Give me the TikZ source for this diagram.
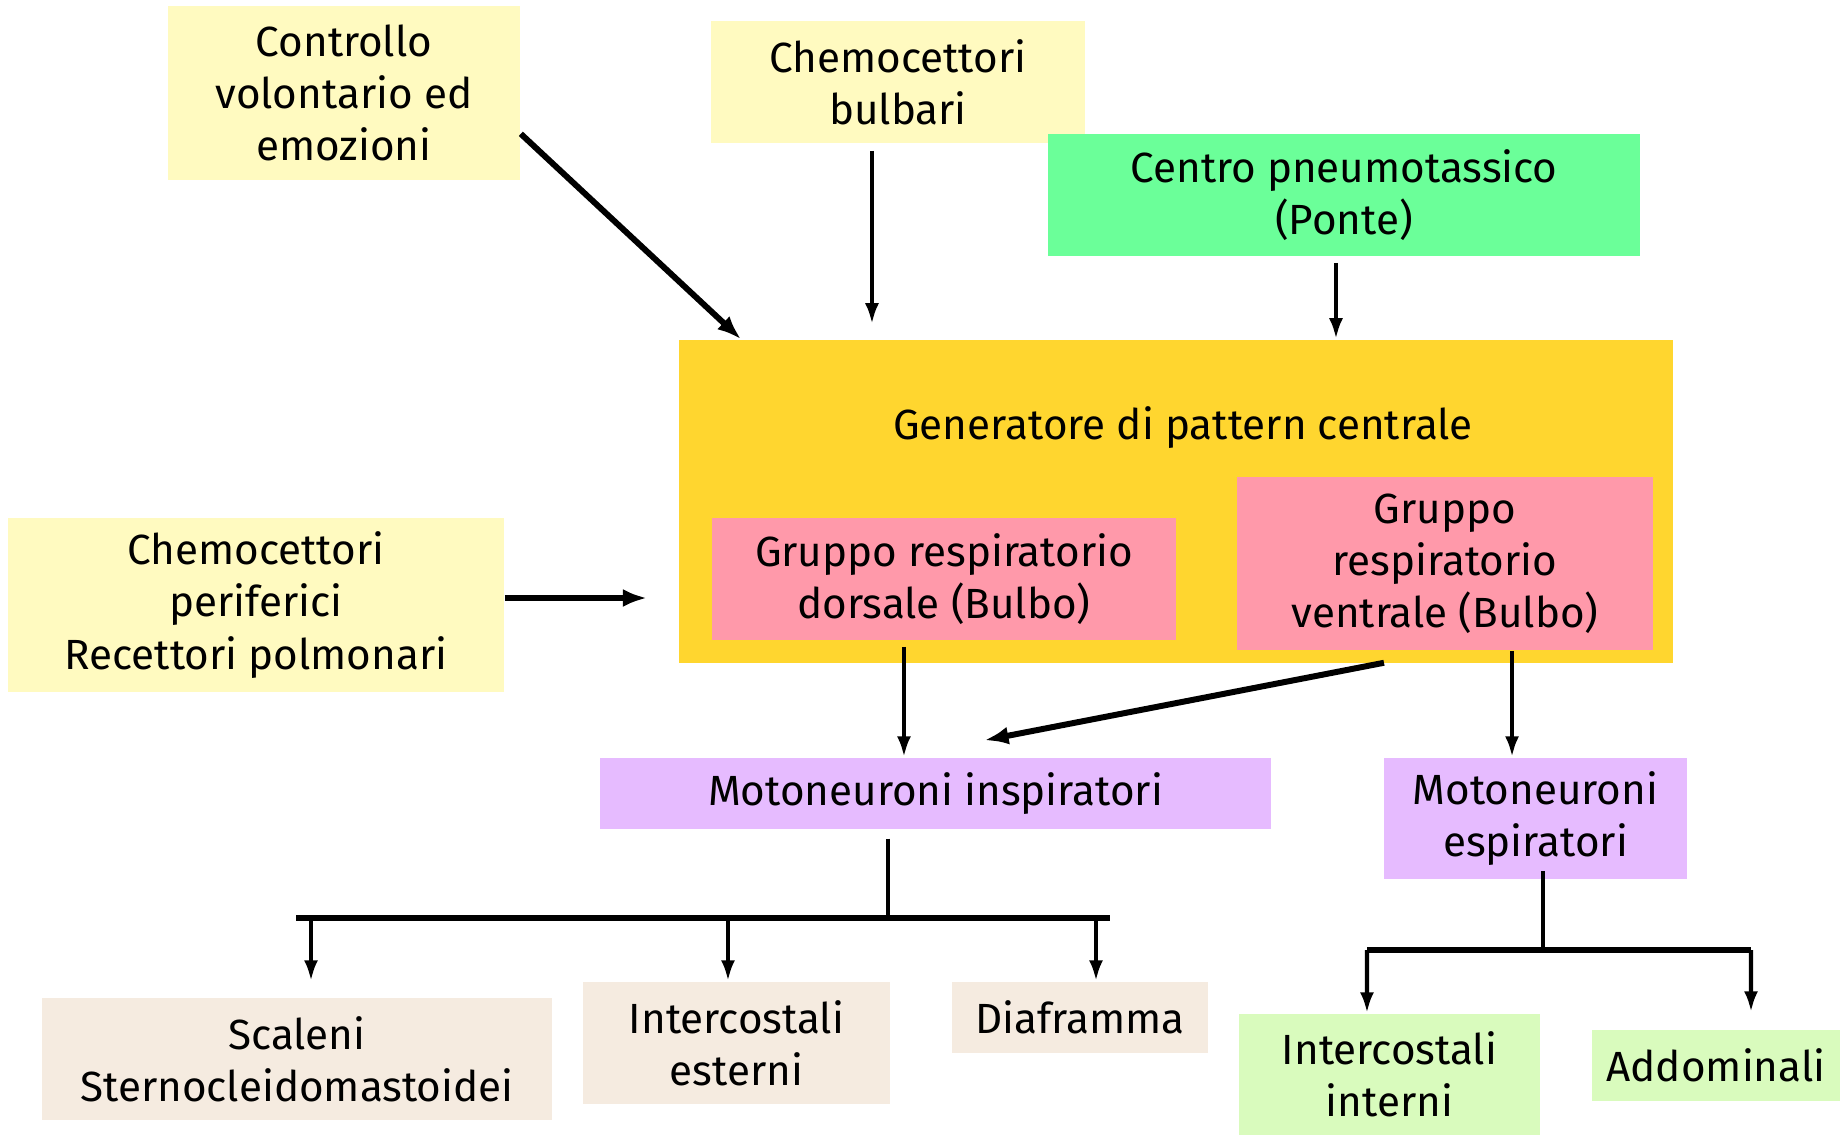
\documentclass[tikz,border=0pt]{standalone}
\usepackage{fontspec}
\setmainfont{Fira Sans}
\usepackage{tikz}
\usetikzlibrary{arrows.meta}
\definecolor{paleyellow}{RGB}{255,250,192}
\definecolor{pontegreen}{RGB}{107,255,153}
\definecolor{gengold}{RGB}{255,214,47}
\definecolor{grppink}{RGB}{255,153,170}
\definecolor{motolilac}{RGB}{230,187,255}
\definecolor{musbeige}{RGB}{245,235,224}
\definecolor{muslgreen}{RGB}{217,251,189}

\begin{document}
\begin{tikzpicture}[x=0.01cm,y=-0.01cm,
  every node/.style={font=\fontsize{12}{14.8}\selectfont},
  box/.style={inner sep=0pt,align=center},
  arr/.style={line width=1.2pt,-{Latex[length=0.21cm,width=0.14cm]}},
  bigarr/.style={line width=1.7pt,-{Latex[length=0.24cm,width=0.18cm]}},
  bar/.style={line width=1.9pt}]
\useasboundingbox (0,0) rectangle (1841,1135);
\node[box,fill=paleyellow,minimum width=3.52cm,minimum height=1.74cm] (vol) at (344,93) {Controllo\\volontario ed\\emozioni};
\node[box,fill=paleyellow,minimum width=3.74cm,minimum height=1.22cm] (bulb) at (898,82) {Chemocettori\\bulbari};
\node[box,fill=pontegreen,minimum width=5.92cm,minimum height=1.22cm] (ponte) at (1344,195) {Centro pneumotassico\\(Ponte)};
\node[box,fill=gengold,minimum width=9.94cm,minimum height=3.23cm] (gen) at (1176,501.5) {};
\node[box] (gentitle) at (1183,428) {Generatore di pattern centrale};
\node[box,fill=grppink,minimum width=4.64cm,minimum height=1.22cm] (dors) at (944,579) {Gruppo respiratorio\\dorsale (Bulbo)};
\node[box,fill=grppink,minimum width=4.16cm,minimum height=1.73cm] (ventr) at (1445,563.5) {Gruppo\\respiratorio\\ventrale (Bulbo)};
\node[box,fill=paleyellow,minimum width=4.96cm,minimum height=1.74cm] (perif) at (256,605) {Chemocettori\\periferici\\Recettori polmonari};
\node[box,fill=motolilac,minimum width=6.71cm,minimum height=0.71cm] (insp) at (935.5,793.5) {Motoneuroni inspiratori};
\node[box,fill=motolilac,minimum width=3.03cm,minimum height=1.21cm] (esp) at (1535.5,818.5) {Motoneuroni\\espiratori};
\node[box,fill=musbeige,minimum width=5.10cm,minimum height=1.22cm] (scal) at (297,1059) {Scaleni\\Sternocleidomastoidei};
\node[box,fill=musbeige,minimum width=3.07cm,minimum height=1.22cm] (iest) at (736.5,1043) {Intercostali\\esterni};
\node[box,fill=musbeige,minimum width=2.56cm,minimum height=0.71cm] (diaf) at (1080,1017.5) {Diaframma};
\node[box,fill=muslgreen,minimum width=3.01cm,minimum height=1.21cm] (iint) at (1389.5,1074.5) {Intercostali\\interni};
\node[box,fill=muslgreen,minimum width=2.48cm,minimum height=0.71cm] (addo) at (1716,1065.5) {Addominali};
\coordinate (ibarL) at (296,918);
\coordinate (ibarR) at (1110,918);
\coordinate (ebarL) at (1367,950);
\coordinate (ebarR) at (1751,950);

\draw[bigarr] (vol.-13) -- ([xshift=0.63cm]gen.north west);
\draw[arr,shorten <=0.07cm,shorten >=0.15cm] ([xshift=-0.26cm]bulb.south) -- ([xshift=-0.26cm]bulb.south |- gen.north);
\draw[arr,shorten <=0.06cm] ([xshift=-0.08cm]ponte.south) -- ([xshift=-0.08cm]ponte.south |- gen.north);
\draw[bigarr,shorten >=0.31cm] ([yshift=0.07cm]perif.east) -- ([yshift=0.07cm]perif.east -| gen.west);
\draw[arr,shorten <=0.06cm] ([xshift=-0.40cm]dors.south) -- ([xshift=-0.40cm]dors.south |- insp.north);
\draw[bigarr] ([xshift=-0.61cm,yshift=-0.12cm]ventr.south) -- ([xshift=0.49cm,yshift=0.17cm]insp.north);
\draw[arr] ([xshift=0.67cm]ventr.south) -- ([xshift=0.67cm]ventr.south |- esp.north);

\draw[line width=1.2pt] ([xshift=-0.475cm,yshift=-0.09cm]insp.south) -- ([xshift=-0.475cm]insp.south |- ibarL);
\draw[bar] (ibarL) -- (ibarR);
\draw[arr] ([xshift=0.14cm]scal.north |- ibarL) -- ([xshift=0.14cm,yshift=0.16cm]scal.north);
\draw[arr] ([xshift=-0.085cm]iest.north |- ibarL) -- ([xshift=-0.085cm]iest.north);
\draw[arr] ([xshift=0.16cm]diaf.north |- ibarL) -- ([xshift=0.16cm]diaf.north);

\draw[line width=1.2pt] ([xshift=0.075cm,yshift=0.09cm]esp.south) -- ([xshift=0.075cm]esp.south |- ebarL);
\draw[bar] (ebarL) -- (ebarR);
\draw[arr] (ebarL) -- ([xshift=-0.225cm]iint.north);
\draw[arr] (ebarR) -- ([xshift=0.35cm,yshift=0.17cm]addo.north);
\end{tikzpicture}
\end{document}
